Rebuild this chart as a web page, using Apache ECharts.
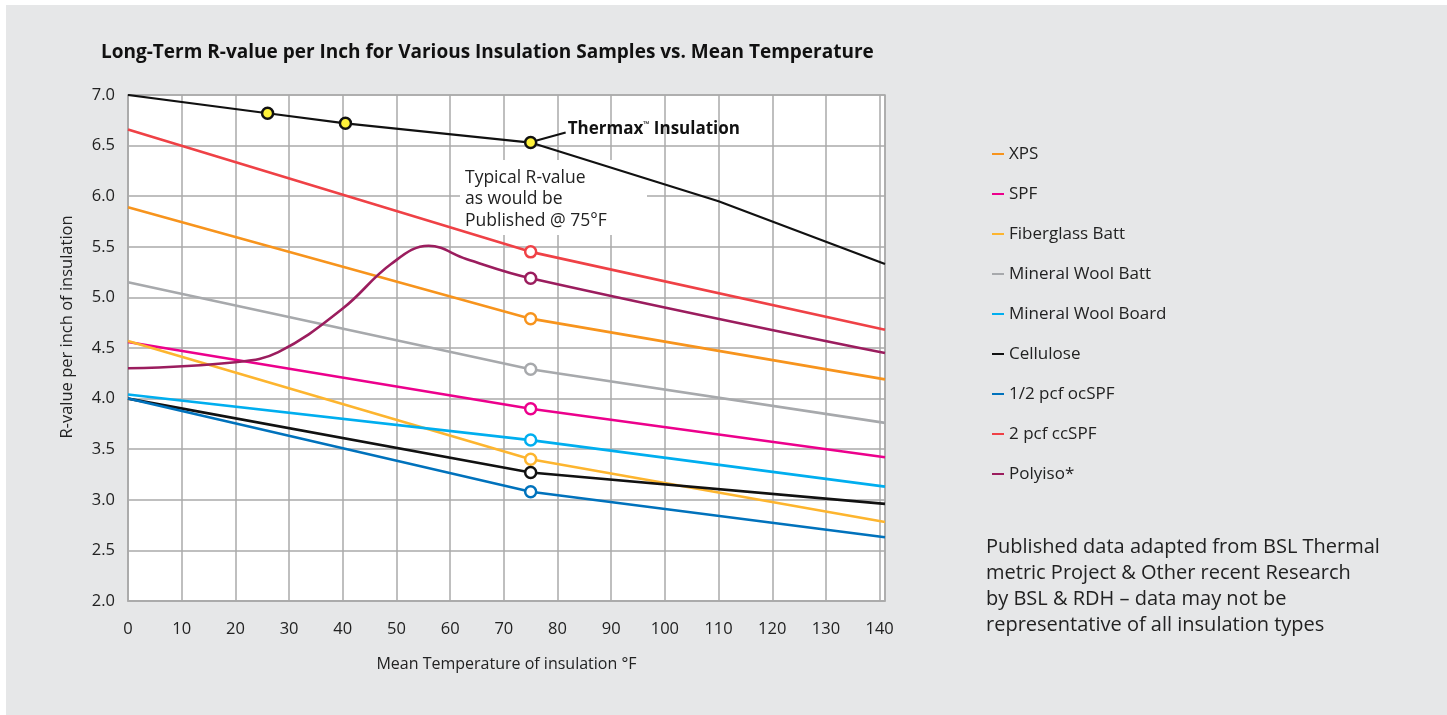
<!DOCTYPE html>
<html>
<head>
<meta charset="utf-8">
<script src="https://cdn.jsdelivr.net/npm/echarts@6/dist/echarts.min.js"></script>
<style>
  html, body { margin: 0; padding: 0; background: #fff; }
  #panel { position: absolute; left: 6px; top: 5px; width: 1441px; height: 710px; background: #e6e7e8; }
  #chart { position: absolute; left: 0; top: 0; width: 1447px; height: 715px; }
</style>
</head>
<body>
<div id="panel"></div>
<div id="chart"></div>
<script>
// temperatures (°F) where most samples are read
const temps = [0, 75, 141];

const xpsR = [5.89, 4.79, 4.19];
const spfR = [4.56, 3.90, 3.42];
const fiberglassR = [4.57, 3.40, 2.78];
const mwBattR = [5.15, 4.29, 3.76];
const mwBoardR = [4.04, 3.59, 3.13];
const celluloseR = [4.00, 3.27, 2.96];
const ocSpfR = [4.00, 3.08, 2.63];
const ccSpfR = [6.66, 5.45, 4.68];

const polyisoTemps = [0, 20, 28, 40, 49, 56, 63, 75, 141];
const polyisoR = [4.30, 4.36, 4.46, 4.89, 5.33, 5.51, 5.38, 5.19, 4.45];

const thermaxTemps = [0, 26, 40.5, 75, 110, 141];
const thermaxR = [7.00, 6.82, 6.72, 6.53, 5.95, 5.33];
const thermaxMarked = [26, 40.5, 75];

const publishedTemp = 75;

const legendNames = ['XPS', 'SPF', 'Fiberglass Batt', 'Mineral Wool Batt', 'Mineral Wool Board',
  'Cellulose', '1/2 pcf ocSPF', '2 pcf ccSPF', 'Polyiso*'];
const colors = ['#f7941d', '#ec008c', '#fdb52f', '#a7a9ac', '#00aeef',
  '#111111', '#0072bc', '#ef4146', '#9b1d5e'];

const seriesValues = [xpsR, spfR, fiberglassR, mwBattR, mwBoardR, celluloseR, ocSpfR, ccSpfR, polyisoR];

function makeSeries(name, color, xs, ys, marked, fill) {
  return {
    name: name,
    type: 'line',
    smooth: name === 'Polyiso*' ? 0.4 : false,
    symbol: 'circle',
    symbolSize: 11,
    showAllSymbol: true,
    lineStyle: { color: color, width: name === 'Thermax' ? 2.2 : 2.6 },
    itemStyle: { color: fill || '#fff', borderColor: color, borderWidth: 2.5 },
    data: xs.map(function (x, i) {
      return { value: [x, ys[i]], symbol: marked.indexOf(x) >= 0 ? 'circle' : 'none' };
    }),
    z: 3
  };
}

const series = legendNames.map(function (n, i) {
  const xs = n === 'Polyiso*' ? polyisoTemps : temps;
  return makeSeries(n, colors[i], xs, seriesValues[i], [publishedTemp]);
});
series.push(makeSeries('Thermax', '#111111', thermaxTemps, thermaxR, thermaxMarked, '#fff23a'));

const chart = echarts.init(document.getElementById('chart'));
const font = '"Open Sans", "Noto Sans", sans-serif';

chart.setOption({
  animation: false,
  textStyle: { fontFamily: font },
  title: {
    text: 'Long-Term R-value per Inch for Various Insulation Samples vs. Mean Temperature',
    left: 96, top: 38,
    textStyle: { fontSize: 19, fontWeight: 'bold', color: '#111', fontFamily: font }
  },
  grid: {
    left: 128, right: 562, top: 95, bottom: 114,
    show: true, backgroundColor: '#fff', borderColor: '#aaaaaa', borderWidth: 1.5
  },
  legend: {
    orient: 'vertical',
    left: 987, top: 139,
    icon: 'rect',
    itemWidth: 12, itemHeight: 2,
    itemGap: 20,
    selectedMode: false,
    textStyle: { fontSize: 17, color: '#222', lineHeight: 20, fontFamily: font },
    data: legendNames.map(function (n, i) {
      return { name: n, itemStyle: { color: colors[i], borderWidth: 0 } };
    })
  },
  xAxis: {
    type: 'value',
    min: 0, max: 141, interval: 10,
    name: 'Mean Temperature of insulation °F',
    nameLocation: 'middle', nameGap: 55,
    nameTextStyle: { fontSize: 16, color: '#222' },
    axisLine: { show: true, lineStyle: { color: '#aaaaaa', width: 1.5 } },
    axisTick: { show: false },
    axisLabel: {
      fontSize: 16.5, color: '#222', margin: 20,
      formatter: function (v) { return v % 10 === 0 ? String(v) : ''; }
    },
    splitLine: { show: true, lineStyle: { color: '#aaaaaa', width: 1.5 } }
  },
  yAxis: {
    type: 'value',
    min: 2, max: 7, interval: 0.5,
    name: 'R-value per inch of insulation',
    nameLocation: 'middle', nameGap: 52,
    nameTextStyle: { fontSize: 16.5, color: '#222', padding: [0, 0, 0, 42] },
    axisLine: { show: true, lineStyle: { color: '#aaaaaa', width: 1.5 } },
    axisTick: { show: false },
    axisLabel: {
      fontSize: 16.5, color: '#222', margin: 13,
      formatter: function (v) { return v.toFixed(1); }
    },
    splitLine: { show: true, lineStyle: { color: '#aaaaaa', width: 1.5 } }
  },
  series: series
});

// annotations anchored to the published Thermax point
const p = chart.convertToPixel({ gridIndex: 0 }, [publishedTemp, thermaxR[3]]);
chart.setOption({
  graphic: [
    { type: 'rect', z: 1, shape: { x: 460, y: 160, width: 187, height: 75 }, style: { fill: '#fff' } },
    {
      type: 'text', z: 5, left: 465, top: 167,
      style: { text: 'Typical R-value\nas would be\nPublished @ 75°F', font: '17.5px ' + font, fill: '#222', lineHeight: 21.5 }
    },
    {
      type: 'line', z: 5,
      shape: { x1: p[0] + 6, y1: p[1] - 2, x2: p[0] + 35, y2: p[1] - 10 },
      style: { stroke: '#111', lineWidth: 2 }
    },
    {
      type: 'text', z: 5, left: p[0] + 37, top: p[1] - 22,
      style: {
        text: '{a|Thermax}{s|™}{a| Insulation}',
        rich: {
          a: { font: 'bold 17px ' + font, fill: '#111' },
          s: { font: 'bold 8px ' + font, fill: '#111', verticalAlign: 'top', padding: [0, 0, 8, 0] }
        }
      }
    },
    {
      type: 'text', left: 986, top: 534,
      style: {
        text: 'Published data adapted from BSL Thermal\nmetric Project & Other recent Research\nby BSL & RDH – data may not be\nrepresentative of all insulation types',
        font: '20px ' + font, fill: '#222', lineHeight: 26
      }
    }
  ]
});
</script>
</body>
</html>
